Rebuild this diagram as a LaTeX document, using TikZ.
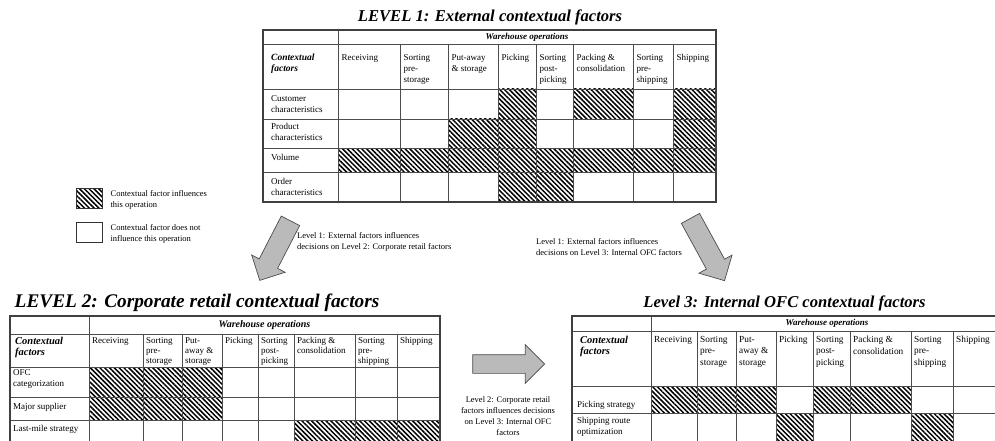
\documentclass[tikz,border=0pt]{standalone}
\usepackage{fontspec}
\setmainfont{Liberation Serif}
\usetikzlibrary{positioning,shapes.arrows,patterns.meta}

\tikzset{
  tabline/.style={draw=black!70, line width=0.6pt},
  tabframe/.style={draw=black!75, line width=1.1pt},
  hatched/.style={pattern={Lines[angle=-45,distance=3.4pt,line width=1.5pt]}, pattern color=black},
  celltext/.style={anchor=north west, inner sep=0pt, align=left, font=\fontsize{9}{11}\selectfont},
  ctxtext/.style={celltext, font=\fontsize{9.5}{11}\selectfont\bfseries\itshape},
  headtext/.style={inner sep=0pt, font=\fontsize{9}{10}\selectfont\bfseries\itshape},
  titletext/.style={inner sep=0pt, font=\fontsize{16.6}{19}\selectfont\bfseries\itshape},
  blockarrow/.style={single arrow, draw=black!70, fill=black!27, line width=0.7pt,
    inner xsep=0pt, inner ysep=10pt, single arrow head extend=8.5pt},
  lbltext/.style={inner sep=0pt, font=\fontsize{8.5}{11}\selectfont},
  keybox/.style={draw=black!80, line width=0.8pt, minimum width=26pt, minimum height=20pt, inner sep=0pt}
}

\begin{document}
\begin{tikzpicture}[x=1pt, y=-1pt]
  \clip (0,0) rectangle (995,441);
  \fill[white] (0,0) rectangle (995,441);

  % level 1
  \node[titletext] (title1) at (490,17) {LEVEL 1: External contextual factors};
  \foreach \xa/\xb/\ya/\yb in {498/536/89/119, 573/633/89/119, 673/716/89/119,
    448/536/119/148, 673/716/119/148, 338/716/148/172, 498/573/172/202}
    \fill[hatched] (\xa,\ya) rectangle (\xb,\yb);
  \foreach \y in {44,89,119,148,172} \draw[tabline] (263,\y) -- (716,\y);
  \draw[tabline] (338,30) -- (338,202);
  \foreach \x in {400,448,498,536,573,633,673} \draw[tabline] (\x,44) -- (\x,202);
  \draw[tabframe] (263,30) rectangle (716,202);
  \node[headtext] (ops1) at (527,37) {Warehouse operations};
  \node[ctxtext] (ctx1) at (271,54) {Contextual\\factors};
  \foreach \x/\txt [count=\i] in {338/Receiving, 400/{Sorting\\pre-\\storage},
    448/{Put-away\\\& storage}, 498/Picking, 536/{Sorting\\post-\\picking},
    573/{Packing \&\\consolidation}, 633/{Sorting\\pre-\\shipping}, 673/Shipping}
    \node[celltext] (op1-\i) at (\x+3.5,54) {\txt};
  \node[celltext] (row1-1) at (271,95) {Customer\\characteristics};
  \node[celltext] (row1-2) at (271,123) {Product\\characteristics};
  \node[celltext] (row1-3) at (271,154) {Volume};
  \node[celltext] (row1-4) at (271,178) {Order\\characteristics};

  % key
  \node[keybox, hatched] (keyon) at (89,198) {};
  \node[lbltext, align=left, right=8pt of keyon, yshift=-2pt] (keyontext) {Contextual factor influences\\this operation};
  \node[keybox] (keyoff) at (89,232) {};
  \node[lbltext, align=left, right=8pt of keyoff, yshift=-2pt] (keyofftext) {Contextual factor does not\\influence this operation};

  % arrows between levels
  \node[blockarrow, minimum height=67pt, rotate=242.7] (down2) at (277.5,246) {};
  \node[blockarrow, minimum height=71pt, rotate=-61.3] (down3) at (705,245) {};
  \node[blockarrow, minimum height=72pt, inner ysep=9pt, single arrow head extend=10pt] (across) at (504,364) {};
  \node[lbltext, align=left, anchor=north west] (note2) at (297,232)
    {Level 1: External factors influences\\decisions on Level 2: Corporate retail factors};
  \node[lbltext, align=left, anchor=north west] (note3) at (536,238)
    {Level 1: External factors influences\\decisions on Level 3: Internal OFC factors};
  \node[lbltext, align=center] (note23) at (508,416)
    {Level 2: Corporate retail\\factors influences decisions\\on Level 3: Internal OFC\\factors};

  % level 2
  \node[titletext, font=\fontsize{19.3}{21}\selectfont\bfseries\itshape] (title2) at (197,303)
    {LEVEL 2: Corporate retail contextual factors};
  \foreach \xa/\xb/\ya/\yb in {89/222/367/397, 89/222/397/420, 294/440/420/450}
    \fill[hatched] (\xa,\ya) rectangle (\xb,\yb);
  \foreach \y in {334,367,397,420} \draw[tabline] (10,\y) -- (440,\y);
  \draw[tabline] (89,316) -- (89,450);
  \foreach \x in {143,182,222,258,294,355,397} \draw[tabline] (\x,334) -- (\x,450);
  \draw[tabframe] (10,316) rectangle (440,450);
  \node[headtext, font=\fontsize{10}{11}\selectfont\bfseries\itshape] (ops2) at (264.5,325) {Warehouse operations};
  \node[ctxtext, font=\fontsize{10.5}{11}\selectfont\bfseries\itshape] (ctx2) at (15,337) {Contextual\\factors};
  \foreach \x/\txt [count=\i] in {89/Receiving, 143/{Sorting\\pre-\\storage},
    182/{Put-\\away \&\\storage}, 222/Picking, 258/{Sorting\\post-\\picking},
    294/{Packing \&\\consolidation}, 355/{Sorting\\pre-\\shipping}, 397/Shipping}
    \node[celltext, font=\fontsize{9}{10}\selectfont] (op2-\i) at (\x+3,337) {\txt};
  \node[celltext] (row2-1) at (13,369) {OFC\\categorization};
  \node[celltext] (row2-2) at (13,403) {Major supplier};
  \node[celltext] (row2-3) at (13,425) {Last-mile strategy};

  % level 3
  \node[titletext] (title3) at (784.5,303) {Level 3: Internal OFC contextual factors};
  \foreach \xa/\xb/\ya/\yb in {651/776/386/413, 813/911/386/413, 776/813/413/450, 911/953/413/450}
    \fill[hatched] (\xa,\ya) rectangle (\xb,\yb);
  \foreach \y in {331,386,413} \draw[tabline] (572,\y) -- (1000,\y);
  \draw[tabline] (651,316) -- (651,450);
  \foreach \x in {697,736,776,813,850,911,953} \draw[tabline] (\x,331) -- (\x,450);
  \draw[tabframe] (572,316) rectangle (1000,450);
  \node[headtext] (ops3) at (827,323) {Warehouse operations};
  \node[ctxtext, font=\fontsize{10.5}{11}\selectfont\bfseries\itshape] (ctx3) at (580,336) {Contextual\\factors};
  \foreach \x/\txt [count=\i] in {651/Receiving, 697/{Sorting\\pre-\\storage},
    736/{Put-\\away \&\\storage}, 776/Picking, 813/{Sorting\\post-\\picking},
    850/{Packing \&\\consolidation}, 911/{Sorting\\pre-\\shipping}, 953/Shipping}
    \node[celltext, font=\fontsize{9.3}{11.5}\selectfont] (op3-\i) at (\x+3,336) {\txt};
  \node[celltext] (row3-1) at (577,401) {Picking strategy};
  \node[celltext] (row3-2) at (577,417) {Shipping route\\optimization};
\end{tikzpicture}
\end{document}
